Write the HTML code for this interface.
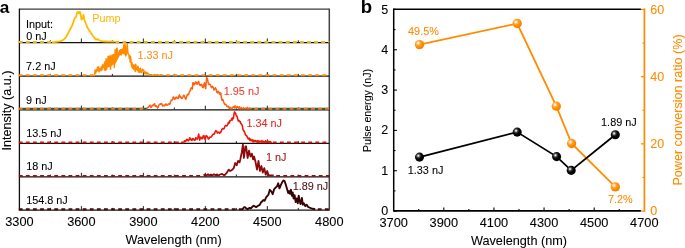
<!DOCTYPE html>
<html><head><meta charset="utf-8"><style>
html,body{margin:0;padding:0;background:#fff;width:685px;height:248px;overflow:hidden;font-family:"Liberation Sans", sans-serif;}
</style></head><body>
<svg width="685" height="248" viewBox="0 0 685 248" style="position:absolute;left:0;top:0;will-change:transform">
<rect width="685" height="248" fill="#fff"/>
<line x1="19.4" y1="9.2" x2="329.3" y2="9.2" stroke="#3a3a3a" stroke-width="1.3"/>
<line x1="19.4" y1="8.6" x2="19.4" y2="210.5" stroke="#111" stroke-width="1.3"/>
<line x1="329.3" y1="8.6" x2="329.3" y2="210.5" stroke="#444" stroke-width="1.5"/>
<line x1="50.39" y1="40.30" x2="50.39" y2="42.3" stroke="#222" stroke-width="1"/>
<line x1="81.38" y1="38.50" x2="81.38" y2="42.3" stroke="#222" stroke-width="1"/>
<line x1="112.37" y1="40.30" x2="112.37" y2="42.3" stroke="#222" stroke-width="1"/>
<line x1="143.36" y1="38.50" x2="143.36" y2="42.3" stroke="#222" stroke-width="1"/>
<line x1="174.35" y1="40.30" x2="174.35" y2="42.3" stroke="#222" stroke-width="1"/>
<line x1="205.34" y1="38.50" x2="205.34" y2="42.3" stroke="#222" stroke-width="1"/>
<line x1="236.33" y1="40.30" x2="236.33" y2="42.3" stroke="#222" stroke-width="1"/>
<line x1="267.32" y1="38.50" x2="267.32" y2="42.3" stroke="#222" stroke-width="1"/>
<line x1="298.31" y1="40.30" x2="298.31" y2="42.3" stroke="#222" stroke-width="1"/>
<line x1="19.4" y1="42.599999999999994" x2="329.3" y2="42.599999999999994" stroke="#111" stroke-width="1.2"/>
<clipPath id="cp0"><rect x="0" y="0" width="53" height="248"/><rect x="114.6" y="0" width="570.4" height="248"/></clipPath>
<line x1="18.8" y1="41.949999999999996" x2="53" y2="41.949999999999996" stroke="#F5B800" stroke-width="1.9" stroke-dasharray="3.8 3.3" clip-path="url(#cp0)"/>
<line x1="115.4" y1="41.949999999999996" x2="329.3" y2="41.949999999999996" stroke="#F5B800" stroke-width="1.9" stroke-dasharray="3.8 3.3"/>
<line x1="50.39" y1="73.90" x2="50.39" y2="75.9" stroke="#222" stroke-width="1"/>
<line x1="81.38" y1="72.10" x2="81.38" y2="75.9" stroke="#222" stroke-width="1"/>
<line x1="112.37" y1="73.90" x2="112.37" y2="75.9" stroke="#222" stroke-width="1"/>
<line x1="143.36" y1="72.10" x2="143.36" y2="75.9" stroke="#222" stroke-width="1"/>
<line x1="174.35" y1="73.90" x2="174.35" y2="75.9" stroke="#222" stroke-width="1"/>
<line x1="205.34" y1="72.10" x2="205.34" y2="75.9" stroke="#222" stroke-width="1"/>
<line x1="236.33" y1="73.90" x2="236.33" y2="75.9" stroke="#222" stroke-width="1"/>
<line x1="267.32" y1="72.10" x2="267.32" y2="75.9" stroke="#222" stroke-width="1"/>
<line x1="298.31" y1="73.90" x2="298.31" y2="75.9" stroke="#222" stroke-width="1"/>
<line x1="19.4" y1="76.2" x2="329.3" y2="76.2" stroke="#111" stroke-width="1.2"/>
<clipPath id="cp1"><rect x="0" y="0" width="93" height="248"/><rect x="163" y="0" width="522" height="248"/></clipPath>
<line x1="18.8" y1="75.2" x2="93" y2="75.2" stroke="#FF8C00" stroke-width="1.9" stroke-dasharray="3.8 3.3" clip-path="url(#cp1)"/>
<line x1="166.1" y1="75.2" x2="329.3" y2="75.2" stroke="#FF8C00" stroke-width="1.9" stroke-dasharray="3.8 3.3"/>
<line x1="50.39" y1="107.50" x2="50.39" y2="109.5" stroke="#222" stroke-width="1"/>
<line x1="81.38" y1="105.70" x2="81.38" y2="109.5" stroke="#222" stroke-width="1"/>
<line x1="112.37" y1="107.50" x2="112.37" y2="109.5" stroke="#222" stroke-width="1"/>
<line x1="143.36" y1="105.70" x2="143.36" y2="109.5" stroke="#222" stroke-width="1"/>
<line x1="174.35" y1="107.50" x2="174.35" y2="109.5" stroke="#222" stroke-width="1"/>
<line x1="205.34" y1="105.70" x2="205.34" y2="109.5" stroke="#222" stroke-width="1"/>
<line x1="236.33" y1="107.50" x2="236.33" y2="109.5" stroke="#222" stroke-width="1"/>
<line x1="267.32" y1="105.70" x2="267.32" y2="109.5" stroke="#222" stroke-width="1"/>
<line x1="298.31" y1="107.50" x2="298.31" y2="109.5" stroke="#222" stroke-width="1"/>
<line x1="19.4" y1="109.8" x2="329.3" y2="109.8" stroke="#111" stroke-width="1.2"/>
<clipPath id="cp2"><rect x="0" y="0" width="147" height="248"/><rect x="251.3" y="0" width="433.7" height="248"/></clipPath>
<line x1="19.4" y1="108.6" x2="329.3" y2="108.6" stroke="#2b6232" stroke-width="1.6" clip-path="url(#cp2)"/>
<line x1="18.8" y1="108.8" x2="147" y2="108.8" stroke="#F07820" stroke-width="1.9" stroke-dasharray="3.8 3.3" clip-path="url(#cp2)"/>
<line x1="254.2" y1="108.8" x2="329.3" y2="108.8" stroke="#F07820" stroke-width="1.9" stroke-dasharray="3.8 3.3"/>
<line x1="50.39" y1="141.10" x2="50.39" y2="143.1" stroke="#222" stroke-width="1"/>
<line x1="81.38" y1="139.30" x2="81.38" y2="143.1" stroke="#222" stroke-width="1"/>
<line x1="112.37" y1="141.10" x2="112.37" y2="143.1" stroke="#222" stroke-width="1"/>
<line x1="143.36" y1="139.30" x2="143.36" y2="143.1" stroke="#222" stroke-width="1"/>
<line x1="174.35" y1="141.10" x2="174.35" y2="143.1" stroke="#222" stroke-width="1"/>
<line x1="205.34" y1="139.30" x2="205.34" y2="143.1" stroke="#222" stroke-width="1"/>
<line x1="236.33" y1="141.10" x2="236.33" y2="143.1" stroke="#222" stroke-width="1"/>
<line x1="267.32" y1="139.30" x2="267.32" y2="143.1" stroke="#222" stroke-width="1"/>
<line x1="298.31" y1="141.10" x2="298.31" y2="143.1" stroke="#222" stroke-width="1"/>
<line x1="19.4" y1="143.4" x2="329.3" y2="143.4" stroke="#111" stroke-width="1.2"/>
<clipPath id="cp3"><rect x="0" y="0" width="181" height="248"/><rect x="270.5" y="0" width="414.5" height="248"/></clipPath>
<line x1="18.8" y1="142.4" x2="181" y2="142.4" stroke="#E8100C" stroke-width="1.9" stroke-dasharray="3.8 3.3" clip-path="url(#cp3)"/>
<line x1="272.8" y1="142.4" x2="329.3" y2="142.4" stroke="#E8100C" stroke-width="1.9" stroke-dasharray="3.8 3.3"/>
<line x1="50.39" y1="174.60" x2="50.39" y2="176.6" stroke="#222" stroke-width="1"/>
<line x1="81.38" y1="172.80" x2="81.38" y2="176.6" stroke="#222" stroke-width="1"/>
<line x1="112.37" y1="174.60" x2="112.37" y2="176.6" stroke="#222" stroke-width="1"/>
<line x1="143.36" y1="172.80" x2="143.36" y2="176.6" stroke="#222" stroke-width="1"/>
<line x1="174.35" y1="174.60" x2="174.35" y2="176.6" stroke="#222" stroke-width="1"/>
<line x1="205.34" y1="172.80" x2="205.34" y2="176.6" stroke="#222" stroke-width="1"/>
<line x1="236.33" y1="174.60" x2="236.33" y2="176.6" stroke="#222" stroke-width="1"/>
<line x1="267.32" y1="172.80" x2="267.32" y2="176.6" stroke="#222" stroke-width="1"/>
<line x1="298.31" y1="174.60" x2="298.31" y2="176.6" stroke="#222" stroke-width="1"/>
<line x1="19.4" y1="176.9" x2="329.3" y2="176.9" stroke="#111" stroke-width="1.2"/>
<clipPath id="cp4"><rect x="0" y="0" width="203.5" height="248"/><rect x="273.5" y="0" width="411.5" height="248"/></clipPath>
<line x1="18.8" y1="175.9" x2="203.5" y2="175.9" stroke="#A00A0A" stroke-width="1.9" stroke-dasharray="3.8 3.3" clip-path="url(#cp4)"/>
<line x1="276.2" y1="175.9" x2="329.3" y2="175.9" stroke="#A00A0A" stroke-width="1.9" stroke-dasharray="3.8 3.3"/>
<line x1="50.39" y1="207.90" x2="50.39" y2="209.9" stroke="#222" stroke-width="1"/>
<line x1="81.38" y1="206.10" x2="81.38" y2="209.9" stroke="#222" stroke-width="1"/>
<line x1="112.37" y1="207.90" x2="112.37" y2="209.9" stroke="#222" stroke-width="1"/>
<line x1="143.36" y1="206.10" x2="143.36" y2="209.9" stroke="#222" stroke-width="1"/>
<line x1="174.35" y1="207.90" x2="174.35" y2="209.9" stroke="#222" stroke-width="1"/>
<line x1="205.34" y1="206.10" x2="205.34" y2="209.9" stroke="#222" stroke-width="1"/>
<line x1="236.33" y1="207.90" x2="236.33" y2="209.9" stroke="#222" stroke-width="1"/>
<line x1="267.32" y1="206.10" x2="267.32" y2="209.9" stroke="#222" stroke-width="1"/>
<line x1="298.31" y1="207.90" x2="298.31" y2="209.9" stroke="#222" stroke-width="1"/>
<line x1="19.4" y1="210.20000000000002" x2="329.3" y2="210.20000000000002" stroke="#111" stroke-width="1.2"/>
<clipPath id="cp5"><rect x="0" y="0" width="240" height="248"/><rect x="314.5" y="0" width="370.5" height="248"/></clipPath>
<line x1="18.8" y1="209.20000000000002" x2="240" y2="209.20000000000002" stroke="#4A0606" stroke-width="1.9" stroke-dasharray="3.8 3.3" clip-path="url(#cp5)"/>
<line x1="317.8" y1="209.20000000000002" x2="329.3" y2="209.20000000000002" stroke="#4A0606" stroke-width="1.9" stroke-dasharray="3.8 3.3"/>
<polygon points="96.00,70.18 96.50,69.66 97.00,69.24 97.50,68.82 98.00,68.40 98.50,68.32 99.00,68.45 99.50,68.58 100.00,68.71 100.50,68.59 101.00,68.31 101.50,68.03 102.00,67.75 102.50,66.56 103.00,65.22 103.50,63.94 104.00,62.66 104.50,62.56 105.00,62.47 105.50,62.37 106.00,62.28 106.50,61.84 107.00,61.42 107.50,60.99 108.00,60.63 108.50,60.54 109.00,60.44 109.50,60.24 110.00,59.97 110.50,59.71 111.00,59.57 111.50,59.43 112.00,58.95 112.50,57.96 113.00,56.97 113.50,55.97 114.00,55.48 114.50,55.33 115.00,55.17 115.50,55.02 116.00,54.51 116.50,53.91 117.00,53.30 117.50,52.70 118.00,52.84 118.50,53.04 119.00,52.94 119.50,52.00 120.00,51.43 120.50,50.65 121.00,49.80 121.50,49.04 122.00,48.75 122.50,48.45 123.00,48.31 123.50,48.26 124.00,48.15 124.50,48.04 125.00,47.95 125.50,47.99 126.00,48.22 126.50,48.10 127.00,47.99 127.50,49.13 127.50,54.62 127.00,54.57 126.50,54.86 126.00,55.15 125.50,54.57 125.00,54.06 124.50,53.63 124.00,53.23 123.50,52.84 123.00,52.42 122.50,52.26 122.00,52.48 121.50,52.71 121.00,53.09 120.50,53.73 120.00,54.48 119.50,55.15 119.00,56.75 118.50,58.04 118.00,59.05 117.50,59.80 117.00,60.82 116.50,61.84 116.00,62.86 115.50,63.70 115.00,63.85 114.50,63.99 114.00,64.14 113.50,64.40 113.00,64.85 112.50,65.27 112.00,65.70 111.50,65.95 111.00,66.07 110.50,66.20 110.00,66.61 109.50,67.03 109.00,67.26 108.50,67.22 108.00,67.18 107.50,67.24 107.00,67.32 106.50,67.40 106.00,67.49 105.50,67.47 105.00,67.45 104.50,67.42 104.00,67.40 103.50,67.80 103.00,68.20 102.50,68.74 102.00,69.41 101.50,69.76 101.00,70.10 100.50,70.44 100.00,70.65 99.50,70.67 99.00,70.68 98.50,70.69 98.00,70.78 97.50,70.98 97.00,71.19 96.50,71.40 96.00,71.95" fill="#FF8C00"/>
<polyline points="52.00,42.10 54.80,42.00 59.70,41.40 62.60,40.40 65.00,38.40 66.90,35.50 68.90,31.60 70.30,29.00 71.80,26.30 73.20,22.90 74.30,19.00 75.20,17.50 76.10,16.90 77.00,12.90 77.90,12.00 78.80,13.30 79.20,12.00 80.10,12.00 80.80,15.10 81.40,19.50 82.30,19.10 83.00,17.80 83.40,14.70 83.80,16.00 84.30,19.50 85.80,23.50 87.30,27.20 88.70,29.70 90.70,32.60 92.60,35.50 94.50,37.90 96.00,39.80 97.40,38.90 98.40,39.80 100.30,40.80 103.20,41.40 106.00,41.50 109.00,41.70 112.00,41.50 114.80,41.70" fill="none" stroke="#FFBB00" stroke-width="1.8" stroke-linejoin="round"/>
<polyline points="92.80,75.30 93.50,75.33 93.99,75.24 94.53,75.55 95.07,69.93 95.35,73.20 95.76,73.08 96.07,70.07 96.56,70.57 96.84,71.34 97.08,69.68 97.39,67.51 97.72,67.13 98.18,68.51 98.64,66.80 98.98,71.90 99.26,71.87 99.70,71.04 100.04,69.00 100.44,70.33 100.90,69.03 101.15,67.05 101.40,68.24 101.82,70.47 102.12,67.79 102.60,64.73 102.95,67.45 103.44,67.02 103.93,66.00 104.48,70.12 104.91,61.70 105.45,66.33 105.79,70.35 106.08,58.70 106.37,63.94 106.78,68.94 107.21,59.95 107.58,64.14 107.84,58.57 108.12,56.22 108.56,65.15 108.94,63.57 109.27,56.17 109.79,56.34 110.18,59.60 110.51,69.40 110.88,55.28 111.32,64.84 111.58,61.48 112.10,59.44 112.59,54.87 113.07,59.10 113.40,54.90 113.86,54.53 114.31,67.48 114.73,60.68 115.11,49.60 115.61,59.00 116.09,54.64 116.60,48.55 117.15,48.22 117.56,55.72 118.10,53.21 118.57,56.30 119.06,52.34 119.43,50.56 119.88,54.74 120.17,51.94 120.48,49.79 120.73,53.83 120.99,54.93 121.29,54.82 121.68,50.65 122.10,49.12 122.34,53.02 122.72,50.53 123.08,53.58 123.35,51.45 123.77,44.97 124.15,44.89 124.50,53.94 124.92,43.94 125.36,47.11 125.60,56.06 126.04,55.00 126.56,54.11 126.87,46.88 127.24,43.60 127.67,49.58 128.00,53.05 128.32,53.78 128.77,54.43 129.24,58.53 129.65,56.03 130.18,62.12 130.49,56.31 130.97,59.79 131.51,66.10 132.02,62.68 132.32,68.12 132.69,64.70 133.28,66.03 133.69,69.30 134.11,64.68 134.60,66.89 135.19,71.37 135.49,71.57 135.79,64.17 136.21,67.30 136.52,69.40 137.00,67.92 137.47,70.50 137.84,66.19 138.15,66.60 138.51,72.03 138.91,68.35 139.46,72.51 140.04,70.18 140.46,68.14 140.73,70.15 141.16,72.76 141.55,72.36 141.85,71.83 142.40,69.23 142.93,70.74 143.35,69.89 143.77,70.02 144.17,72.14 144.74,73.87 145.36,71.82 145.99,73.96 146.28,74.12 146.77,72.34 147.09,74.13 147.39,73.00 147.69,73.42 148.23,73.59 148.56,73.53 149.15,74.79 149.44,74.70 149.93,74.62 150.28,74.95 151.50,74.60 153.00,75.30 154.50,74.50 156.00,75.20 157.50,74.70 159.00,75.30 160.50,74.80 163.20,75.20" fill="none" stroke="#FF8C00" stroke-width="1.4" stroke-linejoin="round"/>
<polyline points="147.00,108.60 148.00,107.30 148.70,106.98 149.40,105.80 150.13,105.16 150.87,107.39 151.60,106.80 152.33,105.21 153.07,105.62 153.80,104.30 154.53,103.72 155.27,106.40 156.00,105.80 156.70,106.11 157.40,108.00 158.15,107.34 158.90,105.10 159.63,104.09 160.37,104.36 161.10,103.60 161.83,103.69 162.57,105.94 163.30,105.80 164.00,104.97 164.70,105.89 165.40,104.30 166.13,104.07 166.87,105.34 167.60,105.10 168.35,104.05 169.10,103.60 169.80,104.20 170.50,102.20 171.25,100.07 172.00,100.00 172.55,99.72 173.10,97.10 173.70,96.93 174.30,98.86 174.90,99.30 175.75,97.60 176.60,97.10 177.35,98.58 178.10,98.50 178.80,96.32 179.50,94.90 180.13,97.35 180.77,96.66 181.40,98.50 182.15,98.22 182.90,97.10 183.60,95.24 184.30,95.60 185.05,97.84 185.80,99.30 186.80,96.30 187.40,94.37 188.00,94.90 188.70,94.18 189.40,92.00 190.20,90.70 190.90,88.40 191.50,87.80 192.30,89.10 192.90,82.70 193.50,82.97 194.10,84.90 194.80,84.07 195.50,82.00 196.10,81.97 196.70,83.92 197.30,84.20 198.00,82.45 198.70,81.30 199.45,84.61 200.20,85.60 200.90,84.40 201.60,84.20 202.35,87.07 203.10,87.80 203.80,84.77 204.50,82.70 205.10,86.87 205.70,88.50 206.70,77.60 207.45,78.96 208.20,82.70 208.90,84.49 209.60,84.20 210.35,84.60 211.10,87.10 211.80,87.61 212.50,86.40 213.25,87.18 214.00,90.00 214.70,89.29 215.40,87.80 216.15,89.24 216.90,92.20 217.60,92.92 218.30,91.40 219.05,92.38 219.80,94.30 220.80,92.90 221.40,97.77 222.00,100.20 222.70,99.37 223.40,100.90 224.15,103.39 224.90,104.50 225.60,104.21 226.30,105.20 227.05,106.68 227.80,106.70 228.53,106.27 229.27,108.46 230.00,107.40 230.70,107.49 231.40,108.90 232.13,108.45 232.87,107.08 233.60,106.70 234.33,107.94 235.07,105.87 235.80,107.40 236.53,108.08 237.27,106.43 238.00,107.10 238.70,108.30 239.40,106.80 240.10,108.20 240.83,108.80 241.57,107.57 242.30,108.60 243.03,108.80 243.75,107.64 244.47,108.80 245.20,108.50 245.90,108.14 246.60,108.80 247.30,107.50 248.00,108.80 248.70,108.80 249.40,107.84 250.10,108.80 250.80,108.27 251.50,108.60" fill="none" stroke="#FF6010" stroke-width="1.5" stroke-linejoin="round"/>
<polyline points="181.00,142.40 181.67,142.50 182.33,142.16 183.00,142.60 183.73,142.50 184.47,140.73 185.20,141.60 185.95,140.87 186.70,139.30 187.45,139.69 188.20,140.80 188.95,140.22 189.70,137.90 190.45,138.43 191.20,140.10 191.95,140.44 192.70,138.60 193.45,138.89 194.20,140.10 194.95,140.16 195.70,137.90 196.45,138.05 197.20,139.30 197.95,137.52 198.70,134.10 199.70,140.10 200.30,137.47 200.90,137.10 201.65,138.75 202.40,138.60 203.15,135.97 203.90,135.60 204.50,138.37 205.10,139.30 206.10,135.60 206.85,136.06 207.60,137.10 208.35,138.94 209.10,138.60 209.85,137.04 210.60,137.10 211.35,136.89 212.10,135.60 212.85,134.43 213.60,134.10 214.35,134.06 215.10,131.90 215.85,130.70 216.60,131.10 217.35,132.99 218.10,132.60 218.85,132.02 219.60,133.40 220.60,131.90 221.20,131.91 221.80,129.60 222.55,128.47 223.30,128.90 224.05,128.71 224.80,126.70 225.55,125.47 226.30,125.90 227.05,125.64 227.80,124.40 228.50,122.30 229.30,122.90 230.00,120.54 230.70,120.50 231.30,119.99 231.90,118.40 232.30,120.00 232.80,117.70 233.40,118.40 234.00,114.00 234.60,111.90 235.20,113.00 235.70,113.90 236.40,115.80 237.05,116.41 237.70,119.00 238.35,120.91 239.00,120.50 239.60,121.60 240.23,121.60 240.87,123.71 241.50,124.20 242.23,125.37 242.97,129.48 243.70,130.80 244.50,131.98 245.30,134.29 246.10,135.60 246.90,135.95 247.70,138.07 248.50,138.90 249.16,138.09 249.82,140.27 250.48,139.12 251.14,140.81 251.80,140.50 252.47,139.76 253.13,141.89 253.80,140.36 254.47,141.63 255.13,140.37 255.80,141.30 256.49,141.90 257.17,140.63 257.86,142.28 258.54,140.93 259.23,142.50 259.91,140.98 260.60,141.80 261.28,142.16 261.96,140.68 262.64,142.50 263.32,141.31 264.00,142.00 264.77,142.50 265.55,140.72 266.33,142.50 267.10,141.70 267.76,141.03 268.41,142.44 269.07,141.54 269.73,142.50 270.39,141.58 271.04,142.50 271.70,142.10" fill="none" stroke="#EE1808" stroke-width="1.6" stroke-linejoin="round"/>
<polyline points="203.50,175.60 205.00,174.60 206.50,175.50 208.00,174.30 209.50,175.40 211.00,174.50 212.50,175.30 214.00,174.20 215.50,175.20 217.00,174.40 218.50,175.40 220.00,174.50 222.20,173.90 224.40,175.40 226.50,173.20 228.70,169.60 230.20,171.00 231.60,170.30 233.80,168.10 235.20,163.00 236.70,165.20 238.10,160.90 239.60,162.30 240.30,159.40 241.80,152.20 242.90,144.60 243.90,158.00 245.40,146.40 246.10,146.40 247.60,158.00 249.00,150.70 250.50,156.50 251.90,153.60 253.10,159.40 254.10,156.50 255.60,162.30 257.00,169.60 258.50,160.90 259.90,171.00 261.40,166.00 262.80,172.50 264.30,168.10 265.70,174.70 267.20,171.00 268.60,175.20 270.50,175.50 273.70,175.40" fill="none" stroke="#8E0A0A" stroke-width="1.8" stroke-linejoin="round"/>
<polyline points="240.00,209.30 240.70,209.10 241.80,209.40 242.90,208.70 244.00,207.23 245.10,207.30 246.50,208.70 247.60,209.23 248.70,208.30 249.67,207.89 250.63,208.44 251.60,207.70 252.70,206.32 253.80,205.80 255.30,206.80 256.35,207.00 257.40,206.20 258.50,205.41 259.60,205.10 261.10,202.20 262.20,201.38 263.30,200.00 264.70,200.70 265.80,198.06 266.90,196.30 268.30,194.90 269.80,189.80 271.30,191.30 272.70,194.20 274.20,189.10 275.60,187.60 277.10,186.20 278.20,183.30 279.50,188.40 281.00,184.70 282.40,181.80 283.60,180.40 284.70,181.20 285.80,184.80 287.20,189.60 288.20,193.10 289.10,191.00 289.90,193.80 290.90,189.60 291.90,195.80 292.70,192.40 293.60,198.50 294.60,195.10 295.70,202.00 296.80,198.50 297.80,203.30 298.70,195.80 299.50,199.90 300.50,204.00 301.90,197.90 302.80,204.70 303.90,203.30 305.30,206.10 306.70,204.70 308.00,206.80 309.40,207.50 310.80,208.10 312.80,208.80 315.20,209.30" fill="none" stroke="#360404" stroke-width="1.9" stroke-linejoin="round"/>
<line x1="393.7" y1="9.2" x2="640.9" y2="9.2" stroke="#000" stroke-width="1.5"/>
<line x1="393.7" y1="210.95000000000002" x2="640.9" y2="210.95000000000002" stroke="#000" stroke-width="1.75"/>
<line x1="393.7" y1="8.45" x2="393.7" y2="211.55" stroke="#000" stroke-width="1.5"/>
<line x1="644.4" y1="8.45" x2="644.4" y2="211.70000000000002" stroke="#FF8C00" stroke-width="1.7"/>
<line x1="393.7" y1="211.05" x2="396.9" y2="211.05" stroke="#000" stroke-width="1.1"/>
<line x1="393.7" y1="190.89" x2="395.5" y2="190.89" stroke="#000" stroke-width="1.1"/>
<line x1="393.7" y1="170.73" x2="396.9" y2="170.73" stroke="#000" stroke-width="1.1"/>
<line x1="393.7" y1="150.57" x2="395.5" y2="150.57" stroke="#000" stroke-width="1.1"/>
<line x1="393.7" y1="130.41" x2="396.9" y2="130.41" stroke="#000" stroke-width="1.1"/>
<line x1="393.7" y1="110.25" x2="395.5" y2="110.25" stroke="#000" stroke-width="1.1"/>
<line x1="393.7" y1="90.09" x2="396.9" y2="90.09" stroke="#000" stroke-width="1.1"/>
<line x1="393.7" y1="69.93" x2="395.5" y2="69.93" stroke="#000" stroke-width="1.1"/>
<line x1="393.7" y1="49.77" x2="396.9" y2="49.77" stroke="#000" stroke-width="1.1"/>
<line x1="393.7" y1="29.61" x2="395.5" y2="29.61" stroke="#000" stroke-width="1.1"/>
<line x1="393.7" y1="9.45" x2="396.9" y2="9.45" stroke="#000" stroke-width="1.1"/>
<line x1="640.9" y1="211.05" x2="644.3" y2="211.05" stroke="#FF8C00" stroke-width="1.2"/>
<line x1="642.5" y1="177.45" x2="644.3" y2="177.45" stroke="#FF8C00" stroke-width="1.2"/>
<line x1="640.9" y1="143.85" x2="644.3" y2="143.85" stroke="#FF8C00" stroke-width="1.2"/>
<line x1="642.5" y1="110.25" x2="644.3" y2="110.25" stroke="#FF8C00" stroke-width="1.2"/>
<line x1="640.9" y1="76.65" x2="644.3" y2="76.65" stroke="#FF8C00" stroke-width="1.2"/>
<line x1="642.5" y1="43.05" x2="644.3" y2="43.05" stroke="#FF8C00" stroke-width="1.2"/>
<line x1="640.9" y1="9.45" x2="644.3" y2="9.45" stroke="#FF8C00" stroke-width="1.2"/>
<line x1="418.76" y1="209.0" x2="418.76" y2="210.8" stroke="#000" stroke-width="1.1"/>
<line x1="443.82" y1="207.60000000000002" x2="443.82" y2="210.8" stroke="#000" stroke-width="1.1"/>
<line x1="468.88" y1="209.0" x2="468.88" y2="210.8" stroke="#000" stroke-width="1.1"/>
<line x1="493.94" y1="207.60000000000002" x2="493.94" y2="210.8" stroke="#000" stroke-width="1.1"/>
<line x1="519.00" y1="209.0" x2="519.00" y2="210.8" stroke="#000" stroke-width="1.1"/>
<line x1="544.06" y1="207.60000000000002" x2="544.06" y2="210.8" stroke="#000" stroke-width="1.1"/>
<line x1="569.12" y1="209.0" x2="569.12" y2="210.8" stroke="#000" stroke-width="1.1"/>
<line x1="594.18" y1="207.60000000000002" x2="594.18" y2="210.8" stroke="#000" stroke-width="1.1"/>
<line x1="619.24" y1="209.0" x2="619.24" y2="210.8" stroke="#000" stroke-width="1.1"/>
<defs><radialGradient id="gb" cx="0.37" cy="0.35" r="0.6"><stop offset="0" stop-color="#ffffff"/><stop offset="0.1" stop-color="#d8d8d8"/><stop offset="0.3" stop-color="#505050"/><stop offset="0.55" stop-color="#0a0a0a"/><stop offset="1" stop-color="#000"/></radialGradient><radialGradient id="go" cx="0.36" cy="0.34" r="0.62"><stop offset="0" stop-color="#ffffff"/><stop offset="0.15" stop-color="#ffe2b8"/><stop offset="0.42" stop-color="#ffa22a"/><stop offset="0.75" stop-color="#ff8c00"/><stop offset="1" stop-color="#f28400"/></radialGradient></defs>
<polyline points="419.50,44.60 517.20,23.50 556.30,106.20 571.60,143.50 615.30,186.90" fill="none" stroke="#FF8C00" stroke-width="1.8"/>
<polyline points="419.50,157.10 517.20,132.10 556.60,156.60 571.20,170.40 615.30,134.80" fill="none" stroke="#000" stroke-width="1.8"/>
<circle cx="419.5" cy="44.6" r="4.65" fill="url(#go)"/>
<circle cx="517.2" cy="23.5" r="4.65" fill="url(#go)"/>
<circle cx="556.3" cy="106.2" r="4.65" fill="url(#go)"/>
<circle cx="571.6" cy="143.5" r="4.65" fill="url(#go)"/>
<circle cx="615.3" cy="186.9" r="4.65" fill="url(#go)"/>
<circle cx="419.5" cy="157.1" r="4.55" fill="url(#gb)"/>
<circle cx="517.2" cy="132.1" r="4.55" fill="url(#gb)"/>
<circle cx="556.6" cy="156.6" r="4.55" fill="url(#gb)"/>
<circle cx="571.2" cy="170.4" r="4.55" fill="url(#gb)"/>
<circle cx="615.3" cy="134.8" r="4.55" fill="url(#gb)"/>
<g font-family='"Liberation Sans", sans-serif'>
<text x="-0.2" y="12.7" font-size="17.2" fill="#000" stroke="#000" stroke-width="0" text-anchor="start" font-weight="bold" >a</text>
<text x="25.9" y="28.3" font-size="10.85" fill="#000" stroke="#000" stroke-width="0.08" text-anchor="start" font-weight="normal" >Input:</text>
<text x="26.3" y="40.1" font-size="10.85" fill="#000" stroke="#000" stroke-width="0.08" text-anchor="start" font-weight="normal" >0 nJ</text>
<text x="26.1" y="69.7" font-size="10.85" fill="#000" stroke="#000" stroke-width="0.08" text-anchor="start" font-weight="normal" >7.2 nJ</text>
<text x="26.1" y="103.7" font-size="10.85" fill="#000" stroke="#000" stroke-width="0.08" text-anchor="start" font-weight="normal" >9 nJ</text>
<text x="26.2" y="136.8" font-size="10.85" fill="#000" stroke="#000" stroke-width="0.08" text-anchor="start" font-weight="normal" >13.5 nJ</text>
<text x="26.2" y="170.3" font-size="10.85" fill="#000" stroke="#000" stroke-width="0.08" text-anchor="start" font-weight="normal" >18 nJ</text>
<text x="26.2" y="203.5" font-size="10.85" fill="#000" stroke="#000" stroke-width="0.08" text-anchor="start" font-weight="normal" >154.8 nJ</text>
<text x="92.2" y="22.2" font-size="10.85" fill="#F9BC10" stroke="#F9BC10" stroke-width="0.08" text-anchor="start" font-weight="normal" >Pump</text>
<text x="137.4" y="59.3" font-size="10.85" fill="#FF9020" stroke="#FF9020" stroke-width="0.08" text-anchor="start" font-weight="normal" >1.33 nJ</text>
<text x="223.8" y="94.6" font-size="10.85" fill="#F04036" stroke="#F04036" stroke-width="0.08" text-anchor="start" font-weight="normal" >1.95 nJ</text>
<text x="246.4" y="127.1" font-size="10.85" fill="#E42A22" stroke="#E42A22" stroke-width="0.08" text-anchor="start" font-weight="normal" >1.34 nJ</text>
<text x="265.9" y="161.2" font-size="10.85" fill="#A01A1A" stroke="#A01A1A" stroke-width="0.08" text-anchor="start" font-weight="normal" >1 nJ</text>
<text x="292.7" y="189.8" font-size="10.85" fill="#4A1216" stroke="#4A1216" stroke-width="0.08" text-anchor="start" font-weight="normal" >1.89 nJ</text>
<text x="19.40" y="226.3" font-size="12.8" fill="#000" stroke="#000" stroke-width="0.08" text-anchor="middle" font-weight="normal" >3300</text>
<text x="81.38" y="226.3" font-size="12.8" fill="#000" stroke="#000" stroke-width="0.08" text-anchor="middle" font-weight="normal" >3600</text>
<text x="143.36" y="226.3" font-size="12.8" fill="#000" stroke="#000" stroke-width="0.08" text-anchor="middle" font-weight="normal" >3900</text>
<text x="205.34" y="226.3" font-size="12.8" fill="#000" stroke="#000" stroke-width="0.08" text-anchor="middle" font-weight="normal" >4200</text>
<text x="267.32" y="226.3" font-size="12.8" fill="#000" stroke="#000" stroke-width="0.08" text-anchor="middle" font-weight="normal" >4500</text>
<text x="329.30" y="226.3" font-size="12.8" fill="#000" stroke="#000" stroke-width="0.08" text-anchor="middle" font-weight="normal" >4800</text>
<text x="173.6" y="244.3" font-size="12.7" fill="#000" stroke="#000" stroke-width="0.08" text-anchor="middle" font-weight="normal" >Wavelength (nm)</text>
<text transform="translate(11,110.5) rotate(-90)" font-size="12.6" fill="#000" stroke="#000" stroke-width="0.08" text-anchor="middle">Intensity (a.u.)</text>
<text x="388.2" y="215.10" font-size="12.5" fill="#000" stroke="#000" stroke-width="0.08" text-anchor="end" font-weight="normal" >0</text>
<text x="388.2" y="174.78" font-size="12.5" fill="#000" stroke="#000" stroke-width="0.08" text-anchor="end" font-weight="normal" >1</text>
<text x="388.2" y="134.46" font-size="12.5" fill="#000" stroke="#000" stroke-width="0.08" text-anchor="end" font-weight="normal" >2</text>
<text x="388.2" y="94.14" font-size="12.5" fill="#000" stroke="#000" stroke-width="0.08" text-anchor="end" font-weight="normal" >3</text>
<text x="388.2" y="53.82" font-size="12.5" fill="#000" stroke="#000" stroke-width="0.08" text-anchor="end" font-weight="normal" >4</text>
<text x="388.2" y="13.50" font-size="12.5" fill="#000" stroke="#000" stroke-width="0.08" text-anchor="end" font-weight="normal" >5</text>
<text x="650.3" y="215.10" font-size="12.5" fill="#FF8C00" stroke="#FF8C00" stroke-width="0.08" text-anchor="start" font-weight="normal" >0</text>
<text x="650.3" y="147.90" font-size="12.5" fill="#FF8C00" stroke="#FF8C00" stroke-width="0.08" text-anchor="start" font-weight="normal" >20</text>
<text x="650.3" y="80.70" font-size="12.5" fill="#FF8C00" stroke="#FF8C00" stroke-width="0.08" text-anchor="start" font-weight="normal" >40</text>
<text x="650.3" y="13.50" font-size="12.5" fill="#FF8C00" stroke="#FF8C00" stroke-width="0.08" text-anchor="start" font-weight="normal" >60</text>
<text x="393.70" y="226.7" font-size="12.8" fill="#000" stroke="#000" stroke-width="0.08" text-anchor="middle" font-weight="normal" >3700</text>
<text x="443.82" y="226.7" font-size="12.8" fill="#000" stroke="#000" stroke-width="0.08" text-anchor="middle" font-weight="normal" >3900</text>
<text x="493.94" y="226.7" font-size="12.8" fill="#000" stroke="#000" stroke-width="0.08" text-anchor="middle" font-weight="normal" >4100</text>
<text x="544.06" y="226.7" font-size="12.8" fill="#000" stroke="#000" stroke-width="0.08" text-anchor="middle" font-weight="normal" >4300</text>
<text x="594.18" y="226.7" font-size="12.8" fill="#000" stroke="#000" stroke-width="0.08" text-anchor="middle" font-weight="normal" >4500</text>
<text x="644.30" y="226.7" font-size="12.8" fill="#000" stroke="#000" stroke-width="0.08" text-anchor="middle" font-weight="normal" >4700</text>
<text x="519" y="245.1" font-size="12.7" fill="#000" stroke="#000" stroke-width="0.08" text-anchor="middle" font-weight="normal" >Wavelength (nm)</text>
<text x="360.8" y="12.6" font-size="18.6" fill="#000" stroke="#000" stroke-width="0" text-anchor="start" font-weight="bold" >b</text>
<text transform="translate(370.7,110.5) rotate(-90)" font-size="10.6" fill="#000" stroke="#000" stroke-width="0.08" text-anchor="middle">Pulse energy (nJ)</text>
<text transform="translate(682.4,110) rotate(-90)" font-size="12.6" fill="#FF8C00" stroke="#FF8C00" stroke-width="0.08" text-anchor="middle">Power conversion ratio (%)</text>
<text x="408.1" y="35.3" font-size="10.85" fill="#FF8C00" stroke="#FF8C00" stroke-width="0.08" text-anchor="start" font-weight="normal" >49.5%</text>
<text x="407.8" y="174.4" font-size="10.85" fill="#000" stroke="#000" stroke-width="0.08" text-anchor="start" font-weight="normal" >1.33 nJ</text>
<text x="601.1" y="126.3" font-size="10.85" fill="#000" stroke="#000" stroke-width="0.08" text-anchor="start" font-weight="normal" >1.89 nJ</text>
<text x="608.0" y="203.3" font-size="10.85" fill="#FF8C00" stroke="#FF8C00" stroke-width="0.08" text-anchor="start" font-weight="normal" >7.2%</text>
</g>
</svg>
</body></html>
